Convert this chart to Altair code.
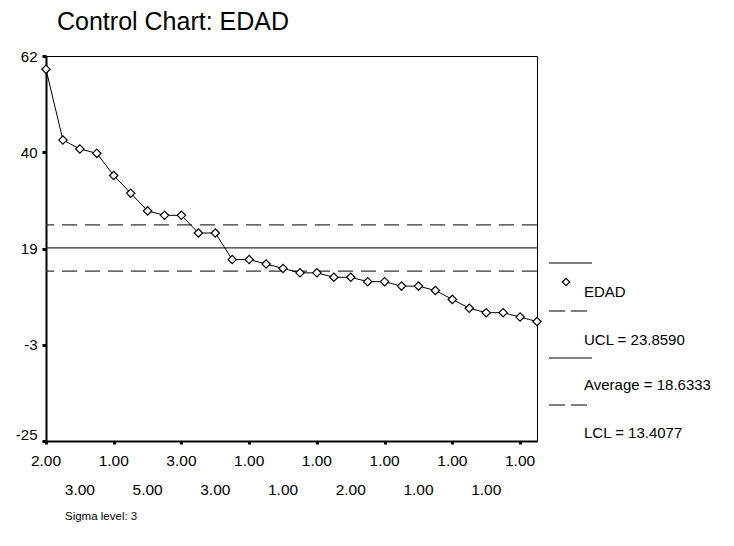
import altair as alt
import pandas as pd

# ---- data ----
edad = [59, 43, 41, 40, 35, 31, 27, 26, 26, 22, 22, 16, 16, 15, 14,
        13, 13, 12, 12, 11, 11, 10, 10, 9, 7, 5, 4, 4, 3, 2]
x_tick_labels = ["2.00", "3.00", "1.00", "5.00", "3.00", "3.00", "1.00", "1.00",
                 "1.00", "2.00", "1.00", "1.00", "1.00", "1.00", "1.00"]
y_tick_values = [-25, -3.25, 18.5, 40.25, 62]
y_tick_labels = ["-25", "-3", "19", "40", "62"]
ucl = 23.8590
average = 18.6333
lcl = 13.4077
series_name = "EDAD"
title_text = "Control Chart: EDAD"
sigma_text = "Sigma level: 3"

FONT = "Liberation Sans"

idx = list(range(1, len(edad) + 1))
df = pd.DataFrame({"idx": idx, "EDAD": edad})

tick_pos = list(range(1, len(edad), 2))
df_lab = pd.DataFrame({
    "idx": tick_pos,
    "label": x_tick_labels,
    "row": [i % 2 for i in range(len(tick_pos))],
})

df_lim = pd.DataFrame({"name": ["UCL", "Average", "LCL"], "value": [ucl, average, lcl]})

xscale = alt.Scale(domain=[1, len(edad)], nice=False, zero=False)
yscale = alt.Scale(domain=[-25, 62], nice=False, zero=False)

y_label_expr = ("[" + ",".join(f"'{l}'" for l in y_tick_labels) + "][indexof(["
                + ",".join(str(v) for v in y_tick_values) + "], datum.value)]")

base = alt.Chart(df)

line = base.mark_line(color="black", strokeWidth=1).encode(
    x=alt.X("idx:Q", scale=xscale,
            axis=alt.Axis(values=tick_pos, labels=False, title=None, grid=False,
                          domainColor="black", domainWidth=2,
                          tickColor="black", tickSize=3, tickWidth=3)),
    y=alt.Y("EDAD:Q", scale=yscale,
            axis=alt.Axis(values=y_tick_values, labelExpr=y_label_expr, title=None,
                          grid=False, domainColor="black", domainWidth=2,
                          tickColor="black", tickSize=4, tickWidth=3,
                          labelFont=FONT, labelFontSize=15, labelColor="black",
                          labelPadding=5,
                          labelOffset={"condition": {"test": "datum.value < -20", "value": -7}, "value": 0})),
)
points = base.mark_point(shape="diamond", size=70, filled=True, fill="white",
                         stroke="black", strokeWidth=1.2, opacity=1).encode(
    x=alt.X("idx:Q", scale=xscale), y=alt.Y("EDAD:Q", scale=yscale))

lim_dashed = alt.Chart(df_lim).transform_filter("datum.name != 'Average'").mark_rule(
    color="#333333", strokeWidth=1.3, strokeDash=[15, 8]).encode(y=alt.Y("value:Q", scale=yscale))
lim_solid = alt.Chart(df_lim).transform_filter("datum.name == 'Average'").mark_rule(
    color="#333333", strokeWidth=1.3).encode(y=alt.Y("value:Q", scale=yscale))

lab_row0 = alt.Chart(df_lab).transform_filter("datum.row == 0").mark_text(
    font=FONT, fontSize=15.5, color="black", baseline="middle").encode(
    x=alt.X("idx:Q", scale=xscale), y=alt.value(405), text="label:N")
lab_row1 = alt.Chart(df_lab).transform_filter("datum.row == 1").mark_text(
    font=FONT, fontSize=15.5, color="black", baseline="middle").encode(
    x=alt.X("idx:Q", scale=xscale), y=alt.value(434), text="label:N")

one = alt.Data(values=[{"a": 1}])

def txt(t, x, y, size=15, align="left"):
    return alt.Chart(one).mark_text(text=t, font=FONT, fontSize=size, color="black",
                                    align=align, baseline="middle").encode(
        x=alt.value(x), y=alt.value(y))

def seg(y, dash=None):
    kw = {"color": "black", "strokeWidth": 1}
    if dash:
        kw["strokeDash"] = dash
    return alt.Chart(one).mark_rule(**kw).encode(
        x=alt.value(503), x2=alt.value(546), y=alt.value(y))

legend = [
    seg(207),
    alt.Chart(one).mark_point(shape="diamond", size=55, filled=True, fill="white",
                              stroke="black", strokeWidth=1.2, opacity=1).encode(
        x=alt.value(520), y=alt.value(226)),
    txt(series_name, 538, 236),
    seg(255, [16, 6]),
    txt(f"UCL = {ucl:.4f}", 538, 284),
    seg(302),
    txt(f"Average = {average:.4f}", 538, 329),
    seg(349, [16, 6]),
    txt(f"LCL = {lcl:.4f}", 538, 377),
]

title = txt(title_text, 11, -34.5, size=25)
sigma = txt(sigma_text, 19, 461, size=11.5)

chart = alt.layer(
    lim_dashed, lim_solid, line, points, lab_row0, lab_row1, title, sigma, *legend
).properties(
    width=491, height=385,
    autosize=alt.AutoSizeParams(type="none"),
    padding={"left": 38, "top": 48, "right": 180, "bottom": 90},
).configure(
    background="white",
    view=alt.ViewConfig(stroke="black", strokeWidth=1),
)

chart.save("out.html", embed_options={"renderer": "svg", "actions": False})
